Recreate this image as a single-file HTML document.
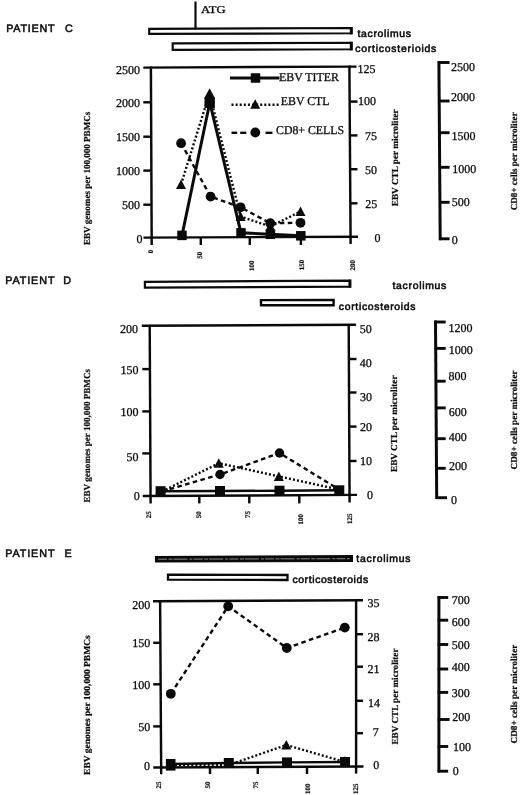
<!DOCTYPE html>
<html lang="en">
<head>
<meta charset="utf-8">
<title>EBV titer, EBV CTL and CD8+ cells in patients C, D and E</title>
<style>
html,body{margin:0;padding:0;background:#fff;}
body{width:520px;height:795px;overflow:hidden;}
svg{display:block;}
text{fill:#0a0a0a;text-rendering:geometricPrecision;}
.s{font-family:"Liberation Serif", serif;}
.n{font-family:"Liberation Sans", sans-serif;}
</style>
</head>
<body>
<svg width="520" height="795" viewBox="0 0 520 795">
<rect x="0" y="0" width="520" height="795" fill="#fff"/>
<text class="n" x="6.2" y="31.9" font-size="10.8" textLength="48.4" lengthAdjust="spacing" stroke="#0a0a0a" stroke-width="0.5">PATIENT</text>
<text class="n" x="65" y="32" font-size="10.8" stroke="#0a0a0a" stroke-width="0.5">C</text>
<line x1="195.5" y1="1.5" x2="195.5" y2="28" stroke="#0a0a0a" stroke-width="2.2"/>
<text class="s" x="201" y="12.8" font-size="10.5" textLength="24.5" lengthAdjust="spacingAndGlyphs" stroke="#0a0a0a" stroke-width="0.3">ATG</text>
<polygon points="149.2,28.9 351.6,28.0 351.6,33.3 149.2,33.9" fill="#fff" stroke="#0a0a0a" stroke-width="2.15"/>
<line x1="351.2" y1="27" x2="351.2" y2="34.3" stroke="#0a0a0a" stroke-width="2.8"/>
<polygon points="172.7,43.4 351.6,42.8 351.6,49.3 172.7,49.9" fill="#fff" stroke="#0a0a0a" stroke-width="2.15"/>
<line x1="351.2" y1="41.8" x2="351.2" y2="50.3" stroke="#0a0a0a" stroke-width="2.8"/>
<text class="n" x="357.5" y="37" font-size="10.4" textLength="53.5" lengthAdjust="spacing" stroke="#0a0a0a" stroke-width="0.55">tacrolimus</text>
<text class="n" x="355.3" y="52.3" font-size="10.4" textLength="81" lengthAdjust="spacing" stroke="#0a0a0a" stroke-width="0.55">corticosterioids</text>
<line x1="150.9" y1="66.5" x2="151.7" y2="245" stroke="#0a0a0a" stroke-width="2.45"/>
<line x1="143.3" y1="67.6" x2="356.5" y2="66.6" stroke="#0a0a0a" stroke-width="2.45"/>
<line x1="349.4" y1="65.6" x2="350.6" y2="244" stroke="#0a0a0a" stroke-width="2.45"/>
<line x1="143.5" y1="237.6" x2="358" y2="236.7" stroke="#0a0a0a" stroke-width="2.45"/>
<text class="s" x="140" y="74.4" font-size="12" text-anchor="end" stroke="#0a0a0a" stroke-width="0.28">2500</text>
<line x1="143.3" y1="102.3" x2="151.3" y2="102.3" stroke="#0a0a0a" stroke-width="2.45"/>
<text class="s" x="140" y="107.1" font-size="12" text-anchor="end" stroke="#0a0a0a" stroke-width="0.28">2000</text>
<line x1="143.3" y1="136.7" x2="151.3" y2="136.7" stroke="#0a0a0a" stroke-width="2.45"/>
<text class="s" x="140" y="140.8" font-size="12" text-anchor="end" stroke="#0a0a0a" stroke-width="0.28">1500</text>
<line x1="143.3" y1="170.6" x2="151.3" y2="170.6" stroke="#0a0a0a" stroke-width="2.45"/>
<text class="s" x="140" y="174.9" font-size="12" text-anchor="end" stroke="#0a0a0a" stroke-width="0.28">1000</text>
<line x1="143.3" y1="204.7" x2="151.3" y2="204.7" stroke="#0a0a0a" stroke-width="2.45"/>
<text class="s" x="140" y="209.4" font-size="12" text-anchor="end" stroke="#0a0a0a" stroke-width="0.28">500</text>
<text class="s" x="142.6" y="243.2" font-size="12" text-anchor="end" stroke="#0a0a0a" stroke-width="0.28">0</text>
<text class="s" x="375.6" y="73.4" font-size="12" text-anchor="end" stroke="#0a0a0a" stroke-width="0.28">125</text>
<line x1="350.3" y1="101.6" x2="357.5" y2="101.6" stroke="#0a0a0a" stroke-width="2.45"/>
<text class="s" x="376" y="105.0" font-size="12" text-anchor="end" stroke="#0a0a0a" stroke-width="0.28">100</text>
<line x1="350.3" y1="135.4" x2="357.5" y2="135.4" stroke="#0a0a0a" stroke-width="2.45"/>
<text class="s" x="377.1" y="139.8" font-size="12" text-anchor="end" stroke="#0a0a0a" stroke-width="0.28">75</text>
<line x1="350.3" y1="169.2" x2="357.5" y2="169.2" stroke="#0a0a0a" stroke-width="2.45"/>
<text class="s" x="377.0" y="174.4" font-size="12" text-anchor="end" stroke="#0a0a0a" stroke-width="0.28">50</text>
<line x1="350.3" y1="203.3" x2="357.5" y2="203.3" stroke="#0a0a0a" stroke-width="2.45"/>
<text class="s" x="377.2" y="208.4" font-size="12" text-anchor="end" stroke="#0a0a0a" stroke-width="0.28">25</text>
<text class="s" x="380.4" y="242.0" font-size="12" text-anchor="end" stroke="#0a0a0a" stroke-width="0.28">0</text>
<line x1="200.8" y1="237.5" x2="200.8" y2="245" stroke="#0a0a0a" stroke-width="2.45"/>
<line x1="249.8" y1="237.5" x2="249.8" y2="245" stroke="#0a0a0a" stroke-width="2.45"/>
<line x1="300.9" y1="237.5" x2="300.9" y2="245" stroke="#0a0a0a" stroke-width="2.45"/>
<text class="s" x="153.4" y="253.2" font-size="7" font-weight="bold" stroke="#0a0a0a" stroke-width="0.2" transform="rotate(-90 153.4 253.2)">0</text>
<text class="s" x="202" y="258.7" font-size="7" font-weight="bold" stroke="#0a0a0a" stroke-width="0.2" transform="rotate(-90 202 258.7)">50</text>
<text class="s" x="254" y="271" font-size="7" font-weight="bold" stroke="#0a0a0a" stroke-width="0.2" transform="rotate(-90 254 271)">100</text>
<text class="s" x="304.2" y="270.3" font-size="7" font-weight="bold" stroke="#0a0a0a" stroke-width="0.2" transform="rotate(-90 304.2 270.3)">150</text>
<text class="s" x="354.7" y="270.6" font-size="7" font-weight="bold" stroke="#0a0a0a" stroke-width="0.2" transform="rotate(-90 354.7 270.6)">200</text>
<line x1="438.9" y1="61.1" x2="440.2" y2="240.2" stroke="#0a0a0a" stroke-width="3.0"/>
<line x1="438.21785714285716" y1="62.5" x2="449.6" y2="62.5" stroke="#0a0a0a" stroke-width="2.9"/>
<text class="s" x="451" y="70.8" font-size="12" stroke="#0a0a0a" stroke-width="0.28">2500</text>
<line x1="438.49285714285713" y1="101" x2="449.6" y2="101" stroke="#0a0a0a" stroke-width="2.9"/>
<text class="s" x="451" y="101.2" font-size="12" stroke="#0a0a0a" stroke-width="0.28">2000</text>
<line x1="438.7192857142857" y1="132.7" x2="449.6" y2="132.7" stroke="#0a0a0a" stroke-width="2.9"/>
<text class="s" x="451.6" y="140.4" font-size="12" stroke="#0a0a0a" stroke-width="0.28">1500</text>
<line x1="438.96642857142854" y1="167.3" x2="449.6" y2="167.3" stroke="#0a0a0a" stroke-width="2.9"/>
<text class="s" x="452.2" y="173" font-size="12" stroke="#0a0a0a" stroke-width="0.28">1000</text>
<line x1="439.21642857142854" y1="202.3" x2="449.6" y2="202.3" stroke="#0a0a0a" stroke-width="2.9"/>
<text class="s" x="451.8" y="206" font-size="12" stroke="#0a0a0a" stroke-width="0.28">500</text>
<line x1="439.47714285714284" y1="238.8" x2="449.6" y2="238.8" stroke="#0a0a0a" stroke-width="2.9"/>
<text class="s" x="451.8" y="243.8" font-size="12" stroke="#0a0a0a" stroke-width="0.28">0</text>
<text class="s" x="89.8" y="245" font-size="9.2" font-weight="bold" textLength="133.3" lengthAdjust="spacingAndGlyphs" stroke="#0a0a0a" stroke-width="0.2" transform="rotate(-90 89.8 245)">EBV genomes per 100,000 PBMCs</text>
<text class="s" x="398.0" y="206.3" font-size="9.2" font-weight="bold" textLength="97" lengthAdjust="spacingAndGlyphs" stroke="#0a0a0a" stroke-width="0.2" transform="rotate(-90 398.0 206.3)">EBV CTL per microliter</text>
<text class="s" x="517.1" y="210.3" font-size="9.2" font-weight="bold" textLength="98" lengthAdjust="spacingAndGlyphs" stroke="#0a0a0a" stroke-width="0.2" transform="rotate(-90 517.1 210.3)">CD8+ cells per microliter</text>
<line x1="230" y1="78" x2="279.5" y2="78" stroke="#0a0a0a" stroke-width="2.8"/>
<rect x="250.75" y="73.25" width="9.5" height="9.5" fill="#0a0a0a"/>
<text class="s" x="279" y="80.7" font-size="12" textLength="60" lengthAdjust="spacingAndGlyphs" stroke="#0a0a0a" stroke-width="0.28">EBV TITER</text>
<line x1="231.5" y1="104.8" x2="280" y2="104.8" stroke="#0a0a0a" stroke-width="2.6" stroke-dasharray="2 2.1"/>
<polygon points="255.2,99.3 260.2,108.8 250.2,108.8" fill="#0a0a0a"/>
<text class="s" x="280.8" y="104.8" font-size="12" textLength="48.8" lengthAdjust="spacingAndGlyphs" stroke="#0a0a0a" stroke-width="0.28">EBV CTL</text>
<line x1="231.5" y1="132.8" x2="237.2" y2="132.8" stroke="#0a0a0a" stroke-width="2.4"/>
<line x1="240.2" y1="132.8" x2="246.3" y2="132.8" stroke="#0a0a0a" stroke-width="2.4"/>
<line x1="265.5" y1="132.8" x2="272.5" y2="132.8" stroke="#0a0a0a" stroke-width="2.4"/>
<circle cx="255.3" cy="132.5" r="4.9" fill="#0a0a0a"/>
<text class="s" x="276" y="134" font-size="12" textLength="68" lengthAdjust="spacingAndGlyphs" stroke="#0a0a0a" stroke-width="0.28">CD8+ CELLS</text>
<polyline points="181.1,143.2 210.6,196.6 240.6,207.3 270.3,223.2 300.5,222.8" fill="none" stroke="#0a0a0a" stroke-width="2.4" stroke-linejoin="round" stroke-dasharray="4.6 3.4"/>
<polyline points="181,184.5 209.5,93.5 240.6,216.5 270.3,226.5 300.5,211.5" fill="none" stroke="#0a0a0a" stroke-width="2.4" stroke-linejoin="round" stroke-dasharray="2 2.1"/>
<polyline points="182,235.4 209.8,102.5 241,232.8 270.4,234.3 300.8,235.8" fill="none" stroke="#0a0a0a" stroke-width="3.0" stroke-linejoin="round"/>
<circle cx="181.1" cy="143.2" r="4.9" fill="#0a0a0a"/>
<circle cx="210.6" cy="196.6" r="4.9" fill="#0a0a0a"/>
<circle cx="240.6" cy="207.3" r="4.9" fill="#0a0a0a"/>
<circle cx="270.3" cy="223.2" r="4.9" fill="#0a0a0a"/>
<circle cx="300.5" cy="222.8" r="4.9" fill="#0a0a0a"/>
<polygon points="181,179.5 186.0,189.0 176.0,189.0" fill="#0a0a0a"/>
<polygon points="209.6,88.14999999999999 215.1,98.55 204.1,98.55" fill="#0a0a0a"/>
<polygon points="240.6,211.5 245.6,221.0 235.6,221.0" fill="#0a0a0a"/>
<polygon points="270.3,221.5 275.3,231.0 265.3,231.0" fill="#0a0a0a"/>
<polygon points="300.5,206.5 305.5,216.0 295.5,216.0" fill="#0a0a0a"/>
<rect x="177.25" y="230.65" width="9.5" height="9.5" fill="#0a0a0a"/>
<rect x="204.5" y="97.6" width="10.4" height="10.4" fill="#0a0a0a"/>
<rect x="236.25" y="228.05" width="9.5" height="9.5" fill="#0a0a0a"/>
<rect x="265.65" y="229.55" width="9.5" height="9.5" fill="#0a0a0a"/>
<rect x="296.05" y="231.05" width="9.5" height="9.5" fill="#0a0a0a"/>
<text class="n" x="5.2" y="284.2" font-size="10.8" textLength="49.3" lengthAdjust="spacing" stroke="#0a0a0a" stroke-width="0.5">PATIENT</text>
<text class="n" x="63.2" y="284.0" font-size="10.8" stroke="#0a0a0a" stroke-width="0.5">D</text>
<polygon points="144.9,281.8 350.2,280.7 350.2,286.6 144.9,287.7" fill="#fff" stroke="#0a0a0a" stroke-width="2.2"/>
<line x1="349.8" y1="279.7" x2="349.8" y2="287.6" stroke="#0a0a0a" stroke-width="2.8"/>
<polygon points="261.0,300.1 333.6,299.9 333.6,305.2 261.0,305.3" fill="#fff" stroke="#0a0a0a" stroke-width="2.4"/>
<text class="n" x="392.5" y="288.8" font-size="10.4" textLength="53.7" lengthAdjust="spacing" stroke="#0a0a0a" stroke-width="0.55">tacrolimus</text>
<text class="n" x="338.8" y="309.5" font-size="10.4" textLength="76.7" lengthAdjust="spacing" stroke="#0a0a0a" stroke-width="0.55">corticosteroids</text>
<line x1="149.7" y1="325" x2="150.6" y2="503.4" stroke="#0a0a0a" stroke-width="2.45"/>
<line x1="141.8" y1="325.8" x2="356" y2="324.8" stroke="#0a0a0a" stroke-width="2.45"/>
<line x1="348.7" y1="324" x2="349.6" y2="502.5" stroke="#0a0a0a" stroke-width="2.45"/>
<line x1="142.7" y1="496.0" x2="357" y2="494.9" stroke="#0a0a0a" stroke-width="2.45"/>
<text class="s" x="137.9" y="333.2" font-size="12" text-anchor="end" stroke="#0a0a0a" stroke-width="0.28">200</text>
<line x1="142.3" y1="369.1" x2="150.2" y2="369.1" stroke="#0a0a0a" stroke-width="2.45"/>
<text class="s" x="138.4" y="374.4" font-size="12" text-anchor="end" stroke="#0a0a0a" stroke-width="0.28">150</text>
<line x1="142.3" y1="411.4" x2="150.2" y2="411.4" stroke="#0a0a0a" stroke-width="2.45"/>
<text class="s" x="138.4" y="415.8" font-size="12" text-anchor="end" stroke="#0a0a0a" stroke-width="0.28">100</text>
<line x1="142.3" y1="453.4" x2="150.2" y2="453.4" stroke="#0a0a0a" stroke-width="2.45"/>
<text class="s" x="138.4" y="461.0" font-size="12" text-anchor="end" stroke="#0a0a0a" stroke-width="0.28">50</text>
<text class="s" x="139.7" y="500.0" font-size="12" text-anchor="end" stroke="#0a0a0a" stroke-width="0.28">0</text>
<text class="s" x="371.8" y="332.6" font-size="12" text-anchor="end" stroke="#0a0a0a" stroke-width="0.28">50</text>
<line x1="349" y1="359" x2="356.5" y2="359" stroke="#0a0a0a" stroke-width="2.45"/>
<text class="s" x="371.8" y="366.7" font-size="12" text-anchor="end" stroke="#0a0a0a" stroke-width="0.28">40</text>
<line x1="349" y1="392.5" x2="356.5" y2="392.5" stroke="#0a0a0a" stroke-width="2.45"/>
<text class="s" x="371.9" y="401.2" font-size="12" text-anchor="end" stroke="#0a0a0a" stroke-width="0.28">30</text>
<line x1="349" y1="426.6" x2="356.5" y2="426.6" stroke="#0a0a0a" stroke-width="2.45"/>
<text class="s" x="371.9" y="431.0" font-size="12" text-anchor="end" stroke="#0a0a0a" stroke-width="0.28">20</text>
<line x1="349" y1="461" x2="356.5" y2="461" stroke="#0a0a0a" stroke-width="2.45"/>
<text class="s" x="371.9" y="465.3" font-size="12" text-anchor="end" stroke="#0a0a0a" stroke-width="0.28">10</text>
<text class="s" x="372.9" y="498.8" font-size="12" text-anchor="end" stroke="#0a0a0a" stroke-width="0.28">0</text>
<line x1="199.3" y1="495.8" x2="199.3" y2="503.4" stroke="#0a0a0a" stroke-width="2.45"/>
<line x1="249.3" y1="495.8" x2="249.3" y2="503.4" stroke="#0a0a0a" stroke-width="2.45"/>
<line x1="299.3" y1="495.8" x2="299.3" y2="503.4" stroke="#0a0a0a" stroke-width="2.45"/>
<text class="s" x="150.7" y="518.2" font-size="7" font-weight="bold" stroke="#0a0a0a" stroke-width="0.2" transform="rotate(-90 150.7 518.2)">25</text>
<text class="s" x="200.7" y="518.2" font-size="7" font-weight="bold" stroke="#0a0a0a" stroke-width="0.2" transform="rotate(-90 200.7 518.2)">50</text>
<text class="s" x="249.6" y="518" font-size="7" font-weight="bold" stroke="#0a0a0a" stroke-width="0.2" transform="rotate(-90 249.6 518)">75</text>
<text class="s" x="302.6" y="524.4" font-size="7" font-weight="bold" stroke="#0a0a0a" stroke-width="0.2" transform="rotate(-90 302.6 524.4)">100</text>
<text class="s" x="352.2" y="524" font-size="7" font-weight="bold" stroke="#0a0a0a" stroke-width="0.2" transform="rotate(-90 352.2 524)">125</text>
<line x1="435.5" y1="320.5" x2="436.7" y2="499.0" stroke="#0a0a0a" stroke-width="3.0"/>
<line x1="434.61333333333334" y1="322" x2="445.7" y2="322" stroke="#0a0a0a" stroke-width="2.9"/>
<text class="s" x="448.6" y="332" font-size="12" stroke="#0a0a0a" stroke-width="0.28">1200</text>
<line x1="434.78933333333333" y1="348.4" x2="445.7" y2="348.4" stroke="#0a0a0a" stroke-width="2.9"/>
<text class="s" x="448.8" y="353.9" font-size="12" stroke="#0a0a0a" stroke-width="0.28">1000</text>
<line x1="435.00800000000004" y1="381.2" x2="445.7" y2="381.2" stroke="#0a0a0a" stroke-width="2.9"/>
<text class="s" x="448.5" y="379.9" font-size="12" stroke="#0a0a0a" stroke-width="0.28">800</text>
<line x1="435.18600000000004" y1="407.9" x2="445.7" y2="407.9" stroke="#0a0a0a" stroke-width="2.9"/>
<text class="s" x="448.7" y="416.1" font-size="12" stroke="#0a0a0a" stroke-width="0.28">600</text>
<line x1="435.39133333333336" y1="438.7" x2="445.7" y2="438.7" stroke="#0a0a0a" stroke-width="2.9"/>
<text class="s" x="448.7" y="441" font-size="12" stroke="#0a0a0a" stroke-width="0.28">400</text>
<line x1="435.5886666666667" y1="468.3" x2="445.7" y2="468.3" stroke="#0a0a0a" stroke-width="2.9"/>
<text class="s" x="449" y="469.6" font-size="12" stroke="#0a0a0a" stroke-width="0.28">200</text>
<line x1="435.7846666666667" y1="497.7" x2="447.0" y2="497.7" stroke="#0a0a0a" stroke-width="2.9"/>
<text class="s" x="451" y="504.3" font-size="12" stroke="#0a0a0a" stroke-width="0.28">0</text>
<text class="s" x="89.8" y="502.5" font-size="9.2" font-weight="bold" textLength="133.5" lengthAdjust="spacingAndGlyphs" stroke="#0a0a0a" stroke-width="0.2" transform="rotate(-90 89.8 502.5)">EBV genomes per 100,000 PBMCs</text>
<text class="s" x="396.8" y="472.0" font-size="9.2" font-weight="bold" textLength="96.5" lengthAdjust="spacingAndGlyphs" stroke="#0a0a0a" stroke-width="0.2" transform="rotate(-90 396.8 472.0)">EBV CTL per microliter</text>
<text class="s" x="517.1" y="469.4" font-size="9.2" font-weight="bold" textLength="99" lengthAdjust="spacingAndGlyphs" stroke="#0a0a0a" stroke-width="0.2" transform="rotate(-90 517.1 469.4)">CD8+ cells per microliter</text>
<polyline points="162,491.3 220,474.5 279.5,453 339,489.5" fill="none" stroke="#0a0a0a" stroke-width="2.4" stroke-linejoin="round" stroke-dasharray="4.6 3.4"/>
<polyline points="162,491.5 218.8,463.2 278.8,476.4 339,489.5" fill="none" stroke="#0a0a0a" stroke-width="2.4" stroke-linejoin="round" stroke-dasharray="2 2.1"/>
<polyline points="160.6,491.2 220,491.0 279.5,490.7 339.3,490.3" fill="none" stroke="#0a0a0a" stroke-width="2.4" stroke-linejoin="round"/>
<circle cx="220" cy="474.5" r="4.7" fill="#0a0a0a"/>
<circle cx="279.5" cy="453" r="4.7" fill="#0a0a0a"/>
<polygon points="218.8,458.2 223.8,467.7 213.8,467.7" fill="#0a0a0a"/>
<polygon points="278.8,471.4 283.8,480.9 273.8,480.9" fill="#0a0a0a"/>
<rect x="155.6" y="486.2" width="10" height="10" fill="#0a0a0a"/>
<rect x="215.0" y="486.0" width="10" height="10" fill="#0a0a0a"/>
<rect x="274.5" y="485.7" width="10" height="10" fill="#0a0a0a"/>
<rect x="334.3" y="485.3" width="10" height="10" fill="#0a0a0a"/>
<text class="n" x="5.2" y="556.8" font-size="10.8" textLength="49.3" lengthAdjust="spacing" stroke="#0a0a0a" stroke-width="0.5">PATIENT</text>
<text class="n" x="64.4" y="556.9" font-size="10.8" stroke="#0a0a0a" stroke-width="0.5">E</text>
<polygon points="155.0,555.9 353.0,555.1 353.0,562.1 155.0,562.4" fill="#0a0a0a"/>
<line x1="158" y1="559.2" x2="349.5" y2="558.7" stroke="#9a9a9a" stroke-width="0.9" stroke-dasharray="9 1.5 4 1 14 2 3 1.2"/>
<polygon points="168.0,574.6 287.5,575.0 287.5,580.0 168.0,579.7" fill="#fff" stroke="#0a0a0a" stroke-width="2.3"/>
<text class="n" x="356.3" y="561.5" font-size="10.4" textLength="54.2" lengthAdjust="spacing" stroke="#0a0a0a" stroke-width="0.55">tacrolimus</text>
<text class="n" x="292.4" y="582.5" font-size="10.4" textLength="75.7" lengthAdjust="spacing" stroke="#0a0a0a" stroke-width="0.55">corticosteroids</text>
<line x1="160.1" y1="600" x2="161.2" y2="774.2" stroke="#0a0a0a" stroke-width="2.45"/>
<line x1="153" y1="601.3" x2="363" y2="600.2" stroke="#0a0a0a" stroke-width="2.45"/>
<line x1="356.1" y1="599.5" x2="356.1" y2="773.6" stroke="#0a0a0a" stroke-width="2.45"/>
<line x1="153.3" y1="767.5" x2="363.5" y2="766.5" stroke="#0a0a0a" stroke-width="2.45"/>
<text class="s" x="150.2" y="608.5" font-size="12" text-anchor="end" stroke="#0a0a0a" stroke-width="0.28">200</text>
<line x1="153.2" y1="642.8" x2="160.8" y2="642.8" stroke="#0a0a0a" stroke-width="2.45"/>
<text class="s" x="150.3" y="646.5" font-size="12" text-anchor="end" stroke="#0a0a0a" stroke-width="0.28">150</text>
<line x1="153.2" y1="684.3" x2="160.8" y2="684.3" stroke="#0a0a0a" stroke-width="2.45"/>
<text class="s" x="150.3" y="689.1" font-size="12" text-anchor="end" stroke="#0a0a0a" stroke-width="0.28">100</text>
<line x1="153.2" y1="726.4" x2="160.8" y2="726.4" stroke="#0a0a0a" stroke-width="2.45"/>
<text class="s" x="150.3" y="730.9" font-size="12" text-anchor="end" stroke="#0a0a0a" stroke-width="0.28">50</text>
<text class="s" x="150.0" y="769.5" font-size="12" text-anchor="end" stroke="#0a0a0a" stroke-width="0.28">0</text>
<text class="s" x="379.4" y="607.2" font-size="12" text-anchor="end" stroke="#0a0a0a" stroke-width="0.28">35</text>
<line x1="356.1" y1="634.2" x2="363" y2="634.2" stroke="#0a0a0a" stroke-width="2.45"/>
<text class="s" x="379.4" y="640.9" font-size="12" text-anchor="end" stroke="#0a0a0a" stroke-width="0.28">28</text>
<line x1="356.1" y1="666.7" x2="363" y2="666.7" stroke="#0a0a0a" stroke-width="2.45"/>
<text class="s" x="379.6" y="672.7" font-size="12" text-anchor="end" stroke="#0a0a0a" stroke-width="0.28">21</text>
<line x1="356.1" y1="700.8" x2="363" y2="700.8" stroke="#0a0a0a" stroke-width="2.45"/>
<text class="s" x="379.9" y="706.6" font-size="12" text-anchor="end" stroke="#0a0a0a" stroke-width="0.28">14</text>
<line x1="356.1" y1="733.2" x2="363" y2="733.2" stroke="#0a0a0a" stroke-width="2.45"/>
<text class="s" x="378.7" y="736.3" font-size="12" text-anchor="end" stroke="#0a0a0a" stroke-width="0.28">7</text>
<text class="s" x="379.2" y="768.5" font-size="12" text-anchor="end" stroke="#0a0a0a" stroke-width="0.28">0</text>
<line x1="210" y1="767" x2="210" y2="774" stroke="#0a0a0a" stroke-width="2.45"/>
<line x1="257.8" y1="767" x2="257.8" y2="774" stroke="#0a0a0a" stroke-width="2.45"/>
<line x1="307" y1="767" x2="307" y2="774" stroke="#0a0a0a" stroke-width="2.45"/>
<text class="s" x="160.6" y="788.6" font-size="7" font-weight="bold" stroke="#0a0a0a" stroke-width="0.2" transform="rotate(-90 160.6 788.6)">25</text>
<text class="s" x="210.5" y="788.6" font-size="7" font-weight="bold" stroke="#0a0a0a" stroke-width="0.2" transform="rotate(-90 210.5 788.6)">50</text>
<text class="s" x="258.4" y="788.4" font-size="7" font-weight="bold" stroke="#0a0a0a" stroke-width="0.2" transform="rotate(-90 258.4 788.4)">75</text>
<text class="s" x="310.1" y="794" font-size="7" font-weight="bold" stroke="#0a0a0a" stroke-width="0.2" transform="rotate(-90 310.1 794)">100</text>
<text class="s" x="357.6" y="794" font-size="7" font-weight="bold" stroke="#0a0a0a" stroke-width="0.2" transform="rotate(-90 357.6 794)">125</text>
<line x1="438.9" y1="596.1" x2="438.9" y2="772.5" stroke="#0a0a0a" stroke-width="3.0"/>
<line x1="437.7" y1="597.5" x2="448.2" y2="597.5" stroke="#0a0a0a" stroke-width="2.9"/>
<text class="s" x="451.8" y="604.2" font-size="12" stroke="#0a0a0a" stroke-width="0.28">700</text>
<line x1="437.7" y1="620.2" x2="448.2" y2="620.2" stroke="#0a0a0a" stroke-width="2.9"/>
<text class="s" x="451.8" y="626.3" font-size="12" stroke="#0a0a0a" stroke-width="0.28">600</text>
<line x1="437.7" y1="644.5" x2="448.2" y2="644.5" stroke="#0a0a0a" stroke-width="2.9"/>
<text class="s" x="451.8" y="648.8" font-size="12" stroke="#0a0a0a" stroke-width="0.28">500</text>
<line x1="437.7" y1="669" x2="448.2" y2="669" stroke="#0a0a0a" stroke-width="2.9"/>
<text class="s" x="451.8" y="671.4" font-size="12" stroke="#0a0a0a" stroke-width="0.28">400</text>
<line x1="437.7" y1="692.4" x2="448.2" y2="692.4" stroke="#0a0a0a" stroke-width="2.9"/>
<text class="s" x="451.8" y="696.7" font-size="12" stroke="#0a0a0a" stroke-width="0.28">300</text>
<line x1="437.7" y1="719.5" x2="449.59999999999997" y2="719.5" stroke="#0a0a0a" stroke-width="2.9"/>
<text class="s" x="452.3" y="720.9" font-size="12" stroke="#0a0a0a" stroke-width="0.28">200</text>
<line x1="437.7" y1="746.5" x2="448.2" y2="746.5" stroke="#0a0a0a" stroke-width="2.9"/>
<text class="s" x="453.1" y="750.6" font-size="12" stroke="#0a0a0a" stroke-width="0.28">100</text>
<line x1="437.7" y1="771.2" x2="448.2" y2="771.2" stroke="#0a0a0a" stroke-width="2.9"/>
<text class="s" x="452.7" y="775.2" font-size="12" stroke="#0a0a0a" stroke-width="0.28">0</text>
<text class="s" x="89.8" y="774.9" font-size="9.2" font-weight="bold" textLength="139.6" lengthAdjust="spacingAndGlyphs" stroke="#0a0a0a" stroke-width="0.2" transform="rotate(-90 89.8 774.9)">EBV genomes per 100,000 PBMCs</text>
<text class="s" x="398.4" y="744.5" font-size="9.2" font-weight="bold" textLength="96" lengthAdjust="spacingAndGlyphs" stroke="#0a0a0a" stroke-width="0.2" transform="rotate(-90 398.4 744.5)">EBV CTL per microliter</text>
<text class="s" x="517.5" y="743.4" font-size="9.2" font-weight="bold" textLength="98.7" lengthAdjust="spacingAndGlyphs" stroke="#0a0a0a" stroke-width="0.2" transform="rotate(-90 517.5 743.4)">CD8+ cells per microliter</text>
<polyline points="170.8,693.8 228.2,606.3 286.8,648 344.8,627.6" fill="none" stroke="#0a0a0a" stroke-width="2.4" stroke-linejoin="round" stroke-dasharray="4.6 3.4"/>
<polyline points="170.8,765 228.8,765 286.3,745 345,762" fill="none" stroke="#0a0a0a" stroke-width="2.4" stroke-linejoin="round" stroke-dasharray="2 2.1"/>
<polyline points="170.8,764 228.8,763 287,762.4 345,762" fill="none" stroke="#0a0a0a" stroke-width="2.4" stroke-linejoin="round"/>
<circle cx="170.8" cy="693.8" r="4.9" fill="#0a0a0a"/>
<circle cx="228.2" cy="606.3" r="4.9" fill="#0a0a0a"/>
<circle cx="286.8" cy="648" r="4.9" fill="#0a0a0a"/>
<circle cx="344.8" cy="627.6" r="4.9" fill="#0a0a0a"/>
<polygon points="286.3,740.0 291.3,749.5 281.3,749.5" fill="#0a0a0a"/>
<polygon points="345,755.95 349.5,764.55 340.5,764.55" fill="#0a0a0a"/>
<rect x="223.8" y="758.0" width="10" height="10" fill="#0a0a0a"/>
<rect x="282.0" y="757.4" width="10" height="10" fill="#0a0a0a"/>
<rect x="340.0" y="757.0" width="10" height="10" fill="#0a0a0a"/>
<rect x="165.9" y="759" width="9.6" height="11.6" fill="#0a0a0a"/>
</svg>
</body>
</html>
